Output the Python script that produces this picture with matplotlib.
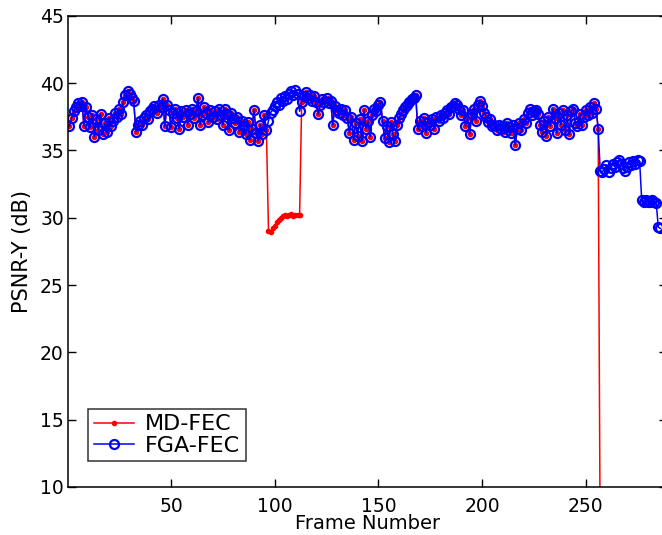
import matplotlib
matplotlib.use("Agg")
import matplotlib.pyplot as plt

# PSNR-Y per frame
fga_fec = [
    36.8, 37.4, 37.9, 38.2, 38.5, 38.3, 38.6, 36.8, 38.2, 37.5,
    36.7, 37.6, 36.0, 37.3, 36.5, 37.7, 36.2, 37.0, 36.4, 37.4,
    36.8, 37.2, 37.8, 37.5, 38.1, 37.7, 38.6, 39.1, 39.4, 39.2,
    38.9, 38.7, 36.4, 36.9, 37.2, 36.9, 37.4, 37.6, 37.3, 37.9,
    38.1, 38.3, 37.8, 38.4, 38.2, 38.8, 36.8, 38.4, 38.0, 36.7,
    37.8, 38.1, 37.4, 36.6, 37.9, 37.5, 38.0, 36.9, 37.7, 38.1,
    37.4, 37.9, 38.9, 36.9, 37.6, 38.2, 37.8, 37.1, 38.0, 37.5,
    37.9, 37.3, 38.1, 37.6, 36.9, 38.1, 37.7, 36.5, 37.8, 37.4,
    37.0, 37.5, 36.4, 37.2, 36.8, 36.2, 37.1, 35.8, 36.6, 38.0,
    36.3, 35.7, 36.9, 36.2, 37.6, 36.5, 37.2, 37.8, 38.0, 38.3,
    38.6, 38.4, 38.9, 38.7, 39.0, 38.8, 39.2, 39.4, 39.1, 39.5,
    39.2, 37.9, 38.6, 39.0, 39.3, 38.9, 39.1, 38.7, 39.0, 38.6,
    37.7, 38.4, 38.8, 38.6, 38.9, 38.5, 38.7, 36.9, 38.3, 38.0,
    37.8, 38.1, 37.6, 38.0, 37.4, 36.3, 37.5, 35.8, 37.0, 36.1,
    37.3, 35.7, 38.0, 36.6, 37.2, 36.0, 37.6, 38.1, 37.9, 38.4,
    38.6, 37.2, 35.9, 36.8, 35.6, 37.1, 36.2, 35.7, 36.9, 37.4,
    37.7, 38.0, 38.2, 38.4, 38.6, 38.8, 38.9, 39.1, 36.6, 37.2,
    36.8, 37.4, 36.3, 37.1, 36.9, 37.3, 36.6, 37.5, 37.2, 37.6,
    37.4, 37.8, 38.0, 37.7, 38.2, 38.3, 38.5, 38.4, 38.1, 37.6,
    38.0, 36.8, 37.4, 36.2, 37.7, 38.1, 37.2, 38.4, 38.7, 38.3,
    37.8, 37.5, 37.1, 37.3, 36.8, 36.9, 36.5, 36.9, 36.6, 36.8,
    36.4, 37.0, 36.7, 36.3, 36.9, 35.4, 36.6, 37.0, 36.5, 37.3,
    37.0, 37.8, 38.1, 37.6, 37.9, 38.0, 37.7, 36.9, 36.4, 37.2,
    36.1, 37.5, 36.8, 38.1, 37.4, 36.3, 37.8, 36.9, 38.0, 36.5,
    37.6, 36.2, 37.9, 38.1, 37.0, 36.8, 37.7, 36.9, 37.5, 38.0,
    37.6, 38.2, 37.8, 38.5, 38.1, 36.6,
    33.5, 33.4, 33.6, 33.9, 33.4, 33.7, 34.0, 33.8, 34.1, 34.3,
    34.0, 33.7, 33.5, 33.8, 34.1, 33.9, 34.2, 34.0, 34.3, 34.2,
    31.3, 31.2, 31.3, 31.2, 31.2, 31.3, 31.2, 31.1,
    29.3, 29.2,
]

# MD-FEC follows FGA-FEC except for the loss burst (frames 97-112)
# and the breakdown from frame 257 on
md_burst = [29.0, 28.9, 29.2, 29.4, 29.7, 29.8, 30.0, 30.1,
            30.2, 30.1, 30.2, 30.3, 30.1, 30.2, 30.2, 30.2]
md_tail = [5.0] * 30
md_fec = fga_fec[:96] + md_burst + fga_fec[112:256] + md_tail

frames_fga = list(range(1, len(fga_fec) + 1))
frames_md = list(range(1, len(md_fec) + 1))

fig = plt.figure(figsize=(6.62, 5.35), dpi=100)
ax = fig.add_axes([68 / 662, 48 / 535, 599 / 662, 471.3 / 535])

p1, = ax.plot(frames_md, md_fec, "-", color="#ff0000", lw=1.1,
              marker=".", ms=6, label="MD-FEC")
p2, = ax.plot(frames_fga, fga_fec, "-", color="#0000ff", lw=1.1,
              marker="o", ms=6.5, mfc="none", mew=1.6, label="FGA-FEC")

ax.set_xlim(0.3, 289.2)
ax.set_ylim(10, 45)
ax.set_xticks([50, 100, 150, 200, 250])
ax.set_yticks([10, 15, 20, 25, 30, 35, 40, 45])

for s in ax.spines.values():
    s.set_linewidth(1.1)
ax.tick_params(direction="in", length=5.5, width=1.0, top=True, right=True,
               labelsize=13.5)
ax.tick_params(axis="x", pad=7)
ax.tick_params(axis="y", pad=3)

ax.set_xlabel("Frame Number", fontsize=14)
ax.set_ylabel("PSNR-Y (dB)", fontsize=15)
ax.xaxis.set_label_coords(0.5, -0.058)
ax.yaxis.set_label_coords(-0.06, 0.5)

leg = ax.legend(handles=[p1, p2], loc="lower left",
                bbox_to_anchor=(0.034, 0.055), fontsize=16,
                handlelength=1.8, handletextpad=0.5, borderpad=0.25,
                labelspacing=0.05, borderaxespad=0, fancybox=False)
leg.get_frame().set_edgecolor("black")
leg.get_frame().set_linewidth(1.1)

fig.savefig("out.png", dpi=100)
